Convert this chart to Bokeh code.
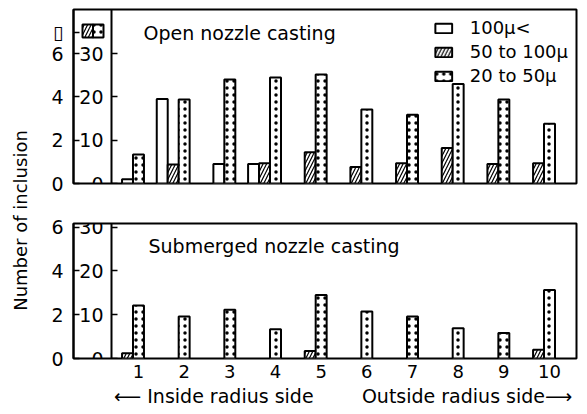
from bokeh.plotting import figure
from bokeh.models import (ColumnDataSource, Range1d, LinearAxis, FixedTicker,
                          Legend, LegendItem, Label, Title)
from bokeh.layouts import row, column
from bokeh.embed import file_html
from bokeh.resources import INLINE

# ---------------- data ----------------
positions = [1, 2, 3, 4, 5, 6, 7, 8, 9, 10]
tick_labels = ["1", "2", "3", "4", "5", "6", "7", "8", "9", "10"]
series_names = ["100\u03bc<", "50 to 100\u03bc", "20 to 50\u03bc"]
outer_ticks = [0, 2, 4, 6]          # scale for 100u< (white bars)
inner_ticks = [0, 10, 20, 30]       # scale for hatched / dotted bars

# Open nozzle casting
open_large = [0.2, 3.9, 0.9, 0.9, 0, 0, 0, 0, 0, 0]            # outer scale
open_medium = [0, 4.4, 0, 4.7, 7.2, 3.8, 4.7, 8.2, 4.5, 4.7]    # inner scale
open_small = [6.7, 19.4, 24.0, 24.5, 25.2, 17.1, 15.9, 23.0, 19.4, 13.8]

# Submerged nozzle casting
sub_large = [0, 0, 0, 0, 0, 0, 0, 0, 0, 0]
sub_medium = [1.2, 0, 0, 0, 1.7, 0, 0, 0, 0, 2.0]
sub_small = [12.1, 9.6, 11.1, 6.7, 14.5, 10.7, 9.6, 6.9, 5.8, 15.6]

# ---------------- layout / style ----------------
FONT = "DejaVu Sans"
LABEL_W = 34
PANEL_W = 587 - LABEL_W
FRAME_L, FRAME_R = 73, 576          # window px
X_START, X_END = -0.423, 10.591
BAR_W = 0.24
RATIO = 5.0                          # inner / outer scale factor
KEY_TICK = 7                         # outer-axis slot used for the open-box key


def px2x(px):
    return X_START + (px - FRAME_L) / (FRAME_R - FRAME_L) * (X_END - X_START)


INNER_X = px2x(111)


def packed(large, medium, small):
    """dotted bar centred on the tick, other non-zero bars packed to its left"""
    res = {"l": ([], []), "m": ([], []), "s": ([], [])}
    for x, l, m, s in zip(positions, large, medium, small):
        if s > 0:
            res["s"][0].append(x); res["s"][1].append(s)
        slot = x - BAR_W
        if m > 0:
            res["m"][0].append(slot); res["m"][1].append(m)
            slot -= BAR_W
        if l > 0:
            res["l"][0].append(slot); res["l"][1].append(l)
    return res


BAR_STYLE = dict(line_color="black", line_width=2, fill_color="white")
MED_STYLE = dict(hatch_pattern="/", hatch_color="black", hatch_scale=7, hatch_weight=1.2)
SMALL_STYLE = dict(hatch_pattern=".", hatch_color="black", hatch_scale=7, hatch_weight=1)

AXIS_STYLE = dict(minor_tick_in=0, minor_tick_out=0, axis_line_width=2,
                  major_tick_line_width=1.5, major_label_text_font=FONT,
                  major_label_text_font_size="19px", major_label_text_color="black")


def make_panel(large, medium, small, y_end, height, top_b, bot_b, frame_top,
               frame_bot, title_text, title_px, xaxis, legend, key):
    p = figure(width=PANEL_W, height=height, toolbar_location=None,
               output_backend="svg", x_range=Range1d(X_START, X_END),
               y_range=Range1d(0, y_end),
               x_axis_location="below" if xaxis else None,
               y_axis_location=None,
               min_border_left=FRAME_L - LABEL_W, min_border_right=587 - FRAME_R,
               min_border_top=top_b, min_border_bottom=bot_b)
    p.extra_y_ranges = {"outer": Range1d(0, y_end / RATIO)}
    p.outline_line_color = "black"
    p.outline_line_width = 2
    p.grid.visible = False
    p.background_fill_color = "white"

    def py2y(py):
        return (frame_bot - py) / (frame_bot - frame_top) * y_end

    bars = packed(large, medium, small)
    src = ColumnDataSource(dict(x=bars["l"][0], top=bars["l"][1]))
    r_l = p.vbar(x="x", top="top", width=BAR_W, source=src, y_range_name="outer", **BAR_STYLE)
    src = ColumnDataSource(dict(x=bars["m"][0], top=bars["m"][1]))
    r_m = p.vbar(x="x", top="top", width=BAR_W, source=src, **BAR_STYLE, **MED_STYLE)
    src = ColumnDataSource(dict(x=bars["s"][0], top=bars["s"][1]))
    r_s = p.vbar(x="x", top="top", width=BAR_W, source=src, **BAR_STYLE, **SMALL_STYLE)

    o_ticks = outer_ticks + ([KEY_TICK] if key else [])
    outer = LinearAxis(y_range_name="outer", ticker=FixedTicker(ticks=o_ticks),
                       major_tick_in=6, major_tick_out=0, major_label_standoff=10,
                       **AXIS_STYLE)
    if key:
        outer.major_label_overrides = {KEY_TICK: "\u25af"}
    p.add_layout(outer, "left")
    inner = LinearAxis(fixed_location=INNER_X, ticker=FixedTicker(ticks=inner_ticks),
                       major_tick_in=6, major_tick_out=0, major_label_standoff=8,
                       **AXIS_STYLE)
    p.add_layout(inner, "left")

    if xaxis:
        ax = p.xaxis[0]
        ax.ticker = FixedTicker(ticks=positions)
        ax.major_label_overrides = {pos: lab for pos, lab in zip(positions, tick_labels)}
        ax.major_tick_in = 0
        ax.major_tick_out = 0
        ax.minor_tick_in = 0
        ax.minor_tick_out = 0
        ax.axis_line_color = None
        ax.major_label_standoff = 6
        ax.major_label_text_font = FONT
        ax.major_label_text_font_size = "18px"
        ax.major_label_text_color = "black"
        gap = "\u00a0" * 8
        ax.axis_label = "\u00a0" * 6 + "\u27f5 Inside radius side" + gap + "Outside radius side\u27f6"
        ax.axis_label_standoff = 4
        ax.axis_label_text_font = FONT
        ax.axis_label_text_font_size = "19px"
        ax.axis_label_text_font_style = "normal"
        ax.axis_label_text_color = "black"

    p.add_layout(Label(x=px2x(title_px[0]), y=py2y(title_px[1]), text=title_text,
                       text_font=FONT, text_font_size="19px", text_baseline="middle",
                       text_align="left", text_color="black"))

    if legend:
        lg = Legend(items=[LegendItem(label=series_names[0], renderers=[r_l]),
                           LegendItem(label=series_names[1], renderers=[r_m]),
                           LegendItem(label=series_names[2], renderers=[r_s])],
                    location="top_right", glyph_width=21, glyph_height=12,
                    label_standoff=16, label_height=20, spacing=3, padding=2,
                    margin=8, border_line_color=None, background_fill_alpha=0,
                    label_text_font=FONT, label_text_font_size="18px",
                    label_text_color="black")
        p.add_layout(lg)

    if key:
        # scale key for the inner axis: hatched + dotted box
        y0, y1 = py2y(37), py2y(24)
        p.quad(left=[px2x(82)], right=[px2x(92.5)], bottom=[y0], top=[y1],
               **BAR_STYLE, **MED_STYLE)
        p.quad(left=[px2x(92.5)], right=[px2x(103)], bottom=[y0], top=[y1],
               **BAR_STYLE, **SMALL_STYLE)
    return p


top = make_panel(open_large, open_medium, open_small, y_end=40.2, height=203,
                 top_b=9, bot_b=20, frame_top=9, frame_bot=183,
                 title_text="Open nozzle casting", title_px=(143, 32),
                 xaxis=False, legend=True, key=True)
bottom = make_panel(sub_large, sub_medium, sub_small, y_end=30.8, height=211,
                    top_b=20, bot_b=56, frame_top=20, frame_bot=155,
                    title_text="Submerged nozzle casting", title_px=(148, 42),
                    xaxis=True, legend=False, key=False)

lab = figure(width=LABEL_W, height=414, toolbar_location=None, output_backend="svg",
             x_range=Range1d(0, 1), y_range=Range1d(0, 1),
             x_axis_location=None, y_axis_location=None,
             min_border_left=30, min_border_right=0, min_border_top=26,
             min_border_bottom=0)
lab.outline_line_color = None
lab.grid.visible = False
lab.add_layout(Title(text="Number of inclusion", align="center", text_font=FONT,
                     text_font_size="18px", text_font_style="normal",
                     text_color="black", standoff=0), "left")

layout = row(lab, column(top, bottom))
open("out.html", "w").write(file_html(layout, INLINE))
